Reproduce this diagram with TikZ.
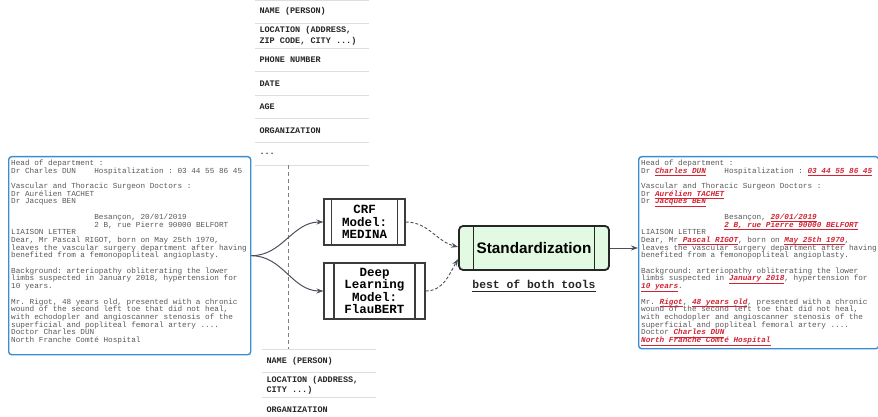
\documentclass[tikz,border=0pt]{standalone}
\usepackage{fontspec}
\setmainfont{Liberation Sans}
\setsansfont{Liberation Sans}
\setmonofont{Liberation Mono}
\usepackage[dvipsnames]{xcolor}
\usetikzlibrary{positioning, arrows.meta, fit}

\definecolor{docblue}{RGB}{58,141,208}
\definecolor{txtgray}{RGB}{88,88,88}
\definecolor{entred}{RGB}{210,36,52}
\definecolor{arrowgray}{RGB}{74,80,92}
\definecolor{boxgray}{RGB}{60,60,60}
\definecolor{stdgreen}{RGB}{226,249,226}
\definecolor{sepgray}{RGB}{222,222,222}

% underline that does not change the line height
\newsavebox{\entbox}
\newcommand{\ulbar}[3]{{\sbox{\entbox}{#3}\smash{\rlap{\rule[-#1]{\wd\entbox}{#2}}}\usebox{\entbox}}}
\newcommand{\ent}[1]{{\color{entred}\bfseries\itshape\ulbar{2.8pt}{0.8pt}{#1}}}
\newcommand{\pad}[1]{\hspace*{#1\fontcharwd\font`x}}

\begin{document}
\begin{tikzpicture}[x=1pt, y=-1pt,
    flow/.style={-{Stealth[length=7pt,width=5pt]}, draw=arrowgray, line width=1pt},
    maybe/.style={flow, dash pattern=on 3pt off 2pt, line width=0.9pt},
    docbox/.style={draw=docblue, line width=1.4pt, rounded corners=3pt},
    doctext/.style={font=\ttfamily\frenchspacing\fontsize{7.7}{7.7}\selectfont, text=txtgray, align=left, inner sep=0pt, anchor=north west},
    tag/.style={font=\ttfamily\bfseries\frenchspacing\fontsize{8.5}{10.6}\selectfont, text=black!85, align=flush left, text width=105pt, minimum height=23pt, inner xsep=4.3pt, inner ysep=3pt},
    sep/.style={draw=sepgray, line width=0.8pt},
    bars/.style 2 args={path picture={
        \draw[#2, line width=1.2pt] ([xshift=#1]path picture bounding box.north west) -- ([xshift=#1]path picture bounding box.south west)
            ([xshift=-#1]path picture bounding box.north east) -- ([xshift=-#1]path picture bounding box.south east);}},
    model/.style={draw=boxgray, line width=1.1pt, fill=white, align=center, inner sep=0pt, font=\ttfamily\bfseries\fontsize{12.5}{12.5}\selectfont, bars={#1}{boxgray}},
    stdbox/.style={draw=black!85, line width=1.8pt, fill=stdgreen, rounded corners=4pt, inner sep=0pt, minimum width=150pt, minimum height=44pt, font=\sffamily\bfseries\fontsize{15.3}{16}\selectfont, bars={14.5pt}{black!85}}]

\useasboundingbox (0,0) rectangle (878,417);

% entity types (top)
\node[tag, anchor=north west] (name1) at (255,0) {NAME (PERSON)};
\node[tag, below=0pt of name1] (loc1) {LOCATION (ADDRESS,\\ZIP CODE, CITY ...)};
\node[tag, below=0pt of loc1] (phone) {PHONE NUMBER};
\node[tag, below=0pt of phone] (date) {DATE};
\node[tag, below=0pt of date] (age) {AGE};
\node[tag, below=0pt of age] (org1) {ORGANIZATION};
\node[tag, below=0pt of org1] (more) {...};

% entity types (bottom)
\node[tag, anchor=north west] (name2) at (262,349.3) {NAME (PERSON)};
\node[tag, below=0pt of name2] (loc2) {LOCATION (ADDRESS,\\CITY ...)};
\node[tag, below=0pt of loc2] (org2) {ORGANIZATION};

\foreach \n in {name1,loc1,phone,date,age,org1,more,name2,loc2,org2}
    \draw[sep] (\n.north west) -- (\n.north east) (\n.south west) -- (\n.south east);

\draw[draw=black!50, line width=0.8pt, dash pattern=on 4pt off 3pt]
    ([xshift=33.3pt]more.south west) -- ([xshift=26.3pt]name2.north west);

% input letter
\node[docbox, minimum width=242pt, minimum height=198pt, anchor=north west] (lbox) at (8,156) {};
\node[doctext] (ltext) at ([xshift=3pt, yshift=-3.7pt]lbox.north west) {Head of department :\\
Dr Charles DUN\pad{4}Hospitalization : 03 44 55 86 45\\[7.7pt]
Vascular and Thoracic Surgeon Doctors :\\
Dr Aurélien TACHET\\
Dr Jacques BEN\\[7.7pt]
\pad{18}Besançon, 20/01/2019\\
\pad{18}2 B, rue Pierre 90000 BELFORT\\
LIAISON LETTER\\
Dear, Mr Pascal RIGOT, born on May 25th 1970,\\
leaves the vascular surgery department after having\\
benefited from a femonopopliteal angioplasty.\\[7.7pt]
Background: arteriopathy obliterating the lower\\
limbs suspected in January 2018, hypertension for\\
10 years.\\[7.7pt]
Mr. Rigot, 48 years old, presented with a chronic\\
wound of the second left toe that did not heal,\\
with echodopler and angioscanner stenosis of the\\
superficial and popliteal femoral artery ....\\
Doctor Charles DUN\\
North Franche Comté Hospital};

% annotated letter
\node[docbox, minimum width=240pt, minimum height=192pt, anchor=north west] (rbox) at (638,156) {};
\node[doctext] (rtext) at ([xshift=3pt, yshift=-3.7pt]rbox.north west) {Head of department :\\
Dr \ent{Charles DUN}\pad{4}Hospitalization : \ent{03 44 55 86 45}\\[7.7pt]
Vascular and Thoracic Surgeon Doctors :\\
Dr \ent{Aurélien TACHET}\\
Dr \ent{Jacques BEN}\\[7.7pt]
\pad{18}Besançon, \ent{20/01/2019}\\
\pad{18}\ent{2 B, rue Pierre 90000 BELFORT}\\
LIAISON LETTER\\
Dear, Mr\ent{\ Pascal RIGOT}, born on \ent{May 25th 1970},\\
leaves the vascular surgery department after having\\
benefited from a femonopopliteal angioplasty.\\[7.7pt]
Background: arteriopathy obliterating the lower\\
limbs suspected in \ent{January 2018}, hypertension for\\
\ent{10 years}.\\[7.7pt]
Mr. \ent{Rigot}, \ent{48 years old}, presented with a chronic\\
wound of the second left toe that did not heal,\\
with echodopler and angioscanner stenosis of the\\
superficial and popliteal femoral artery ....\\
Doctor \ent{Charles DUN}\\
\ent{North Franche Comté Hospital}};

% models
\node[model=7.7pt, minimum width=81pt, minimum height=46pt] (crf) at (364.5,222) {CRF\\Model:\\MEDINA};
\node[model=10pt, minimum width=101pt, minimum height=56pt] (dl) at (374.5,291) {Deep\\Learning\\Model:\\FlauBERT};
\node[stdbox] (std) at (534,248) {Standardization};
\node[below=9pt of std, inner sep=0pt, font=\ttfamily\bfseries\fontsize{11.4}{12}\selectfont, text=black!85] (best) {\ulbar{3pt}{0.9pt}{best of both tools}};

\draw[flow] (lbox.east) to[out=0, in=180] (crf.west);
\draw[flow] (lbox.east) to[out=0, in=180] (dl.west);
\draw[maybe] (crf.east) to[out=0, in=165] ([yshift=1pt]std.west);
\draw[maybe] (dl.east) to[out=0, in=240] ([yshift=-11pt]std.west);
\draw[flow] (std.east) -- (std.east -| rbox.west);
\end{tikzpicture}
\end{document}
